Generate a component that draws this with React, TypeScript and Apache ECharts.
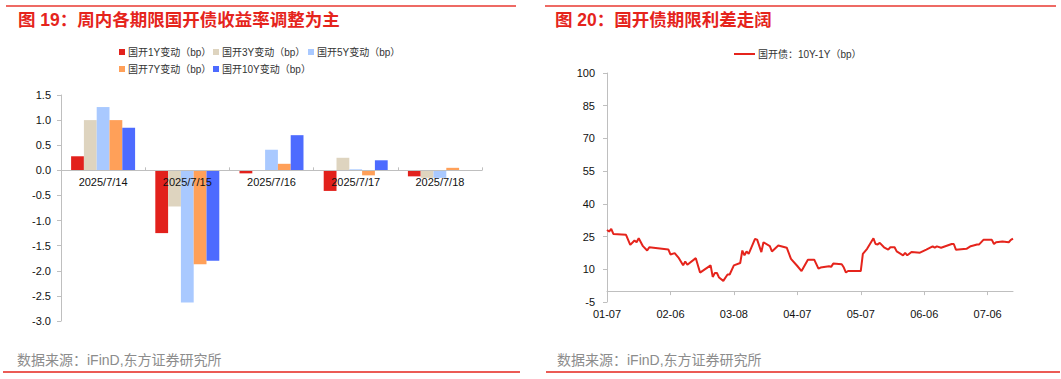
import React, { useEffect, useRef } from "react";
import * as echarts from "echarts";

// ---------- Left chart data (bp changes) ----------
const barCategories = ["2025/7/14", "2025/7/15", "2025/7/16", "2025/7/17", "2025/7/18"];
const barSeriesNames = ["国开1Y变动（bp）", "国开3Y变动（bp）", "国开5Y变动（bp）", "国开7Y变动（bp）", "国开10Y变动（bp）"];
const cdb1Y = [0.28, -1.25, -0.06, -0.41, -0.12];
const cdb3Y = [1.0, -0.72, 0.0, 0.25, -0.15];
const cdb5Y = [1.26, -2.63, 0.41, 0.02, -0.15];
const cdb7Y = [1.0, -1.87, 0.13, -0.1, 0.05];
const cdb10Y = [0.85, -1.8, 0.7, 0.2, 0.0];
const barColors = ["#E2211C", "#DED4BF", "#A9C9FF", "#FFA059", "#4D6BFF"];

// ---------- Right chart data (10Y-1Y spread, bp) ----------
const spreadName = "国开债：10Y-1Y（bp）";
const spreadStart = "2025-01-07";
const spreadEnd = "2025-07-18";
const spreadDates = [
  "01-07", "01-08", "01-09", "01-10", "01-16", "01-18", "01-20", "01-21", "01-22", "01-24",
  "01-26", "01-27", "02-05", "02-06", "02-08", "02-10", "02-12", "02-13", "02-14", "02-18",
  "02-20", "02-25", "02-26", "02-27", "02-28", "03-01", "03-03", "03-05", "03-06", "03-08",
  "03-11", "03-12", "03-13", "03-14", "03-15", "03-18", "03-19", "03-21", "03-22", "03-25",
  "03-26", "03-29", "04-02", "04-04", "04-07", "04-09", "04-12", "04-15", "04-17", "04-18",
  "04-22", "04-23", "04-24", "04-28", "04-29", "04-30", "05-01", "05-07", "05-08", "05-10",
  "05-13", "05-14", "05-15", "05-16", "05-18", "05-20", "05-21", "05-23", "05-24", "05-27",
  "05-28", "05-29", "05-31", "06-04", "06-07", "06-10", "06-11", "06-12", "06-14", "06-19",
  "06-20", "06-21", "06-26", "06-28", "07-01", "07-02", "07-04", "07-08", "07-09", "07-10",
  "07-13", "07-16", "07-17", "07-18",
];
const spreadValues = [
  28.0, 27.3, 28.5, 26.2, 25.8, 21.2, 23.2, 22.4, 24.2, 20.6,
  18.6, 20.1, 19.1, 16.8, 17.4, 15.1, 11.8, 13.6, 12.1, 15.1,
  8.5, 11.8, 6.5, 8.3, 8.3, 6.2, 4.7, 7.6, 7.6, 11.8,
  12.9, 18.6, 16.4, 18.2, 17.1, 23.9, 23.6, 17.9, 22.4, 20.6,
  18.2, 20.9, 19.9, 14.8, 11.5, 9.2, 14.4, 14.4, 10.3, 10.8,
  11.4, 11.1, 12.6, 12.3, 10.8, 8.5, 9.2, 9.2, 17.1, 19.4,
  24.2, 21.6, 21.4, 22.1, 20.1, 19.0, 20.1, 20.1, 18.2, 16.4,
  17.5, 16.4, 17.9, 17.6, 19.0, 20.5, 19.9, 20.5, 19.9, 21.6,
  21.6, 19.0, 19.4, 20.6, 21.4, 21.4, 23.5, 23.5, 21.6, 22.4,
  22.7, 22.4, 23.5, 24.1,
];
const spreadAxisMin = -5;
const spreadAxisMax = 100;
const spreadAxisStep = 15;
const barAxisMin = -3;
const barAxisMax = 1.5;
const barAxisStep = 0.5;

const FONT = "'Liberation Sans', 'Noto Sans CJK SC', sans-serif";
const RED = "#E5241C";

function buildCalendar(): string[] {
  const out: string[] = [];
  const d = new Date(spreadStart + "T00:00:00Z");
  const end = new Date(spreadEnd + "T00:00:00Z");
  while (d.getTime() <= end.getTime()) {
    const m = String(d.getUTCMonth() + 1).padStart(2, "0");
    const day = String(d.getUTCDate()).padStart(2, "0");
    out.push(`${m}-${day}`);
    d.setUTCDate(d.getUTCDate() + 1);
  }
  return out;
}

// grid geometry (layout only)
const G0 = { left: 61, right: 579, top: 95, bottom: 58 };
const G1 = { left: 607, right: 48, top: 73, bottom: 77 };
const H = 379;

export default function App() {
  const ref = useRef<HTMLDivElement>(null);

  useEffect(() => {
    if (!ref.current) return;
    const chart = echarts.init(ref.current, undefined, { renderer: "svg" });

    const calendar = buildCalendar();
    const lookup: Record<string, number> = {};
    spreadDates.forEach((d, i) => (lookup[d] = spreadValues[i]));
    const lineData = calendar.map((d) => (d in lookup ? lookup[d] : null));

    const barData = [cdb1Y, cdb3Y, cdb5Y, cdb7Y, cdb10Y];
    const legendLefts = [119, 213, 308, 119, 213];
    const legendTops = [47, 47, 47, 64, 64];

    // distance from grid bottom to the zero line, so category axes sit on zero
    const h0 = H - G0.top - G0.bottom;
    const zeroOffset0 = (h0 * (0 - barAxisMin)) / (barAxisMax - barAxisMin);
    const h1 = H - G1.top - G1.bottom;
    const zeroOffset1 = (h1 * (0 - spreadAxisMin)) / (spreadAxisMax - spreadAxisMin);

    const axisGray = "#BFBFBF";

    const option: any = {
      animation: false,
      backgroundColor: "#fff",
      textStyle: { fontFamily: FONT },
      legend: [
        ...barSeriesNames.map((n, i) => ({
          data: [n],
          left: legendLefts[i],
          top: legendTops[i],
          icon: "rect",
          itemWidth: 6,
          itemHeight: 6,
          itemGap: 4,
          padding: 0,
          textStyle: { fontSize: 10, color: "#333", fontFamily: FONT, padding: [0, 0, 0, -2] },
        })),
        {
          data: [spreadName],
          left: 734,
          top: 49,
          icon: "rect",
          itemWidth: 21,
          itemHeight: 2,
          padding: 0,
          textStyle: { fontSize: 10, color: "#333", fontFamily: FONT, padding: [0, 0, 0, -2] },
        },
      ],
      grid: [G0, G1],
      xAxis: [
        {
          type: "category",
          gridIndex: 0,
          data: barCategories,
          z: 10,
          offset: -zeroOffset0,
          axisLine: { onZero: false, lineStyle: { color: axisGray, width: 1 } },
          axisTick: { show: true, inside: true, length: 3, lineStyle: { color: axisGray } },
          axisLabel: { color: "#111", fontSize: 11, margin: 6, fontFamily: FONT },
        },
        {
          type: "category",
          gridIndex: 1,
          data: calendar,
          boundaryGap: false,
          offset: -zeroOffset1,
          axisLine: { onZero: false, lineStyle: { color: axisGray, width: 1 } },
          axisTick: { show: true, interval: 29, length: 4, lineStyle: { color: axisGray } },
          axisLabel: { interval: 29, color: "#111", fontSize: 11, margin: 17, fontFamily: FONT },
        },
      ],
      yAxis: [
        {
          type: "value",
          gridIndex: 0,
          min: barAxisMin,
          max: barAxisMax,
          interval: barAxisStep,
          splitLine: { show: false },
          axisLine: { show: true, lineStyle: { color: axisGray } },
          axisTick: { show: true, length: 4, lineStyle: { color: axisGray } },
          axisLabel: {
            color: "#111",
            fontSize: 11,
            margin: 10,
            fontFamily: FONT,
            formatter: (v: number) => v.toFixed(1),
          },
        },
        {
          type: "value",
          gridIndex: 1,
          min: spreadAxisMin,
          max: spreadAxisMax,
          interval: spreadAxisStep,
          splitLine: { show: false },
          axisLine: { show: true, lineStyle: { color: axisGray } },
          axisTick: { show: true, length: 4, lineStyle: { color: axisGray } },
          axisLabel: { color: "#111", fontSize: 11, margin: 12, fontFamily: FONT },
        },
      ],
      series: [
        ...barSeriesNames.map((n, i) => ({
          name: n,
          type: "bar",
          xAxisIndex: 0,
          yAxisIndex: 0,
          data: barData[i],
          barGap: "0%",
          barCategoryGap: "24%",
          itemStyle: { color: barColors[i] },
        })),
        {
          name: spreadName,
          type: "line",
          xAxisIndex: 1,
          yAxisIndex: 1,
          data: lineData,
          connectNulls: true,
          showSymbol: false,
          symbol: "none",
          lineStyle: { color: RED, width: 2 },
          itemStyle: { color: RED },
        },
      ],
      graphic: [
        { type: "line", shape: { x1: 6, y1: 6, x2: 516, y2: 6 }, style: { stroke: "#EE6A64", lineWidth: 2 } },
        { type: "line", shape: { x1: 545, y1: 6, x2: 1056, y2: 6 }, style: { stroke: "#EE6A64", lineWidth: 2 } },
        {
          type: "text",
          x: 18,
          y: 20,
          style: {
            text: "图 19：周内各期限国开债收益率调整为主",
            fill: RED,
            font: `bold 17.5px ${FONT}`,
            verticalAlign: "middle",
            textVerticalAlign: "middle",
          },
        },
        {
          type: "text",
          x: 555,
          y: 20,
          style: {
            text: "图 20：国开债期限利差走阔",
            fill: RED,
            font: `bold 17.5px ${FONT}`,
            verticalAlign: "middle",
            textVerticalAlign: "middle",
          },
        },
        {
          type: "text",
          x: 17,
          y: 360,
          style: {
            text: "数据来源：iFinD,东方证券研究所",
            fill: "#8C8C8C",
            font: `14px ${FONT}`,
            verticalAlign: "middle",
            textVerticalAlign: "middle",
          },
        },
        {
          type: "text",
          x: 557,
          y: 360,
          style: {
            text: "数据来源：iFinD,东方证券研究所",
            fill: "#8C8C8C",
            font: `14px ${FONT}`,
            verticalAlign: "middle",
            textVerticalAlign: "middle",
          },
        },
        { type: "line", shape: { x1: 3, y1: 372, x2: 520, y2: 372 }, style: { stroke: RED, lineWidth: 1.5 } },
        { type: "line", shape: { x1: 546, y1: 372, x2: 1060, y2: 372 }, style: { stroke: RED, lineWidth: 1.5 } },
      ],
    };

    chart.setOption(option);
    return () => chart.dispose();
  }, []);

  return (
    <div
      ref={ref}
      style={{ position: "fixed", left: 0, top: 0, width: 1061, height: 379, background: "#fff" }}
    />
  );
}
